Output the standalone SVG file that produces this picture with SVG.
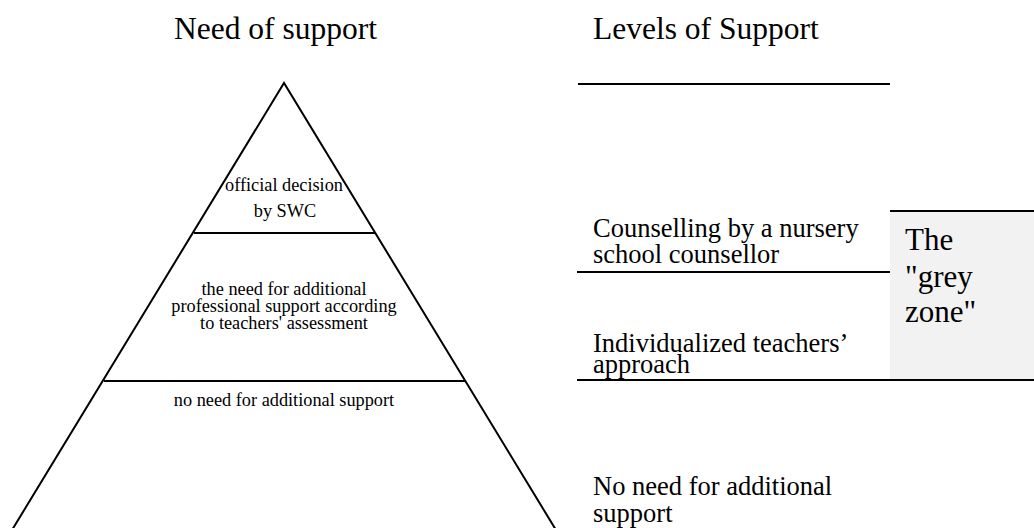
<svg xmlns="http://www.w3.org/2000/svg" width="1034" height="528" viewBox="0 0 1034 528">
<style>
text{font-family:"Liberation Serif","Times New Roman",serif;fill:#000}
.t{font-size:31.5px}
.s{font-size:18.3px}
.r{font-size:26.5px}
.g{font-size:31px}
.ln{stroke:#000;stroke-width:2;fill:none}
</style>
<rect width="1034" height="528" fill="#fff"/>
<g id="titles">
<text class="t" x="174" y="39">Need of support</text>
<text class="t" x="593" y="39">Levels of Support</text>
</g>
<g id="pyramid">
<path class="ln" d="M12,530 L284,83 L556,530"/>
<line class="ln" x1="194" y1="233" x2="375" y2="233"/>
<line class="ln" x1="104" y1="381" x2="465" y2="381"/>
</g>
<g id="level-top">
<text class="s" x="284" y="191" text-anchor="middle">official decision</text>
<text class="s" x="285" y="217" text-anchor="middle">by SWC</text>
</g>
<g id="level-middle">
<text class="s" x="284" y="295" text-anchor="middle">the need for additional</text>
<text class="s" x="284" y="312" text-anchor="middle">professional support according</text>
<text class="s" x="284" y="329" text-anchor="middle">to teachers' assessment</text>
</g>
<g id="level-bottom">
<text class="s" x="284" y="406" text-anchor="middle">no need for additional support</text>
</g>
<g id="grey-zone">
<rect x="890" y="211" width="144" height="169" fill="#f2f2f2"/>
<line class="ln" x1="890" y1="211" x2="1034" y2="211"/>
<text class="g" x="905" y="250">The</text>
<text class="g" x="905" y="287">"grey</text>
<text class="g" x="905" y="322">zone"</text>
</g>
<g id="connectors">
<line class="ln" x1="578" y1="84" x2="890" y2="84"/>
<line class="ln" x1="577" y1="272" x2="890" y2="272"/>
<line class="ln" x1="577" y1="380" x2="1034" y2="380"/>
</g>
<g id="support-levels">
<text class="r" x="593" y="237">Counselling by a nursery</text>
<text class="r" x="593" y="263">school counsellor</text>
<text class="r" x="593" y="352">Individualized teachers’</text>
<text class="r" x="593" y="373">approach</text>
<text class="r" x="593" y="495">No need for additional</text>
<text class="r" x="593" y="522">support</text>
</g>
</svg>
